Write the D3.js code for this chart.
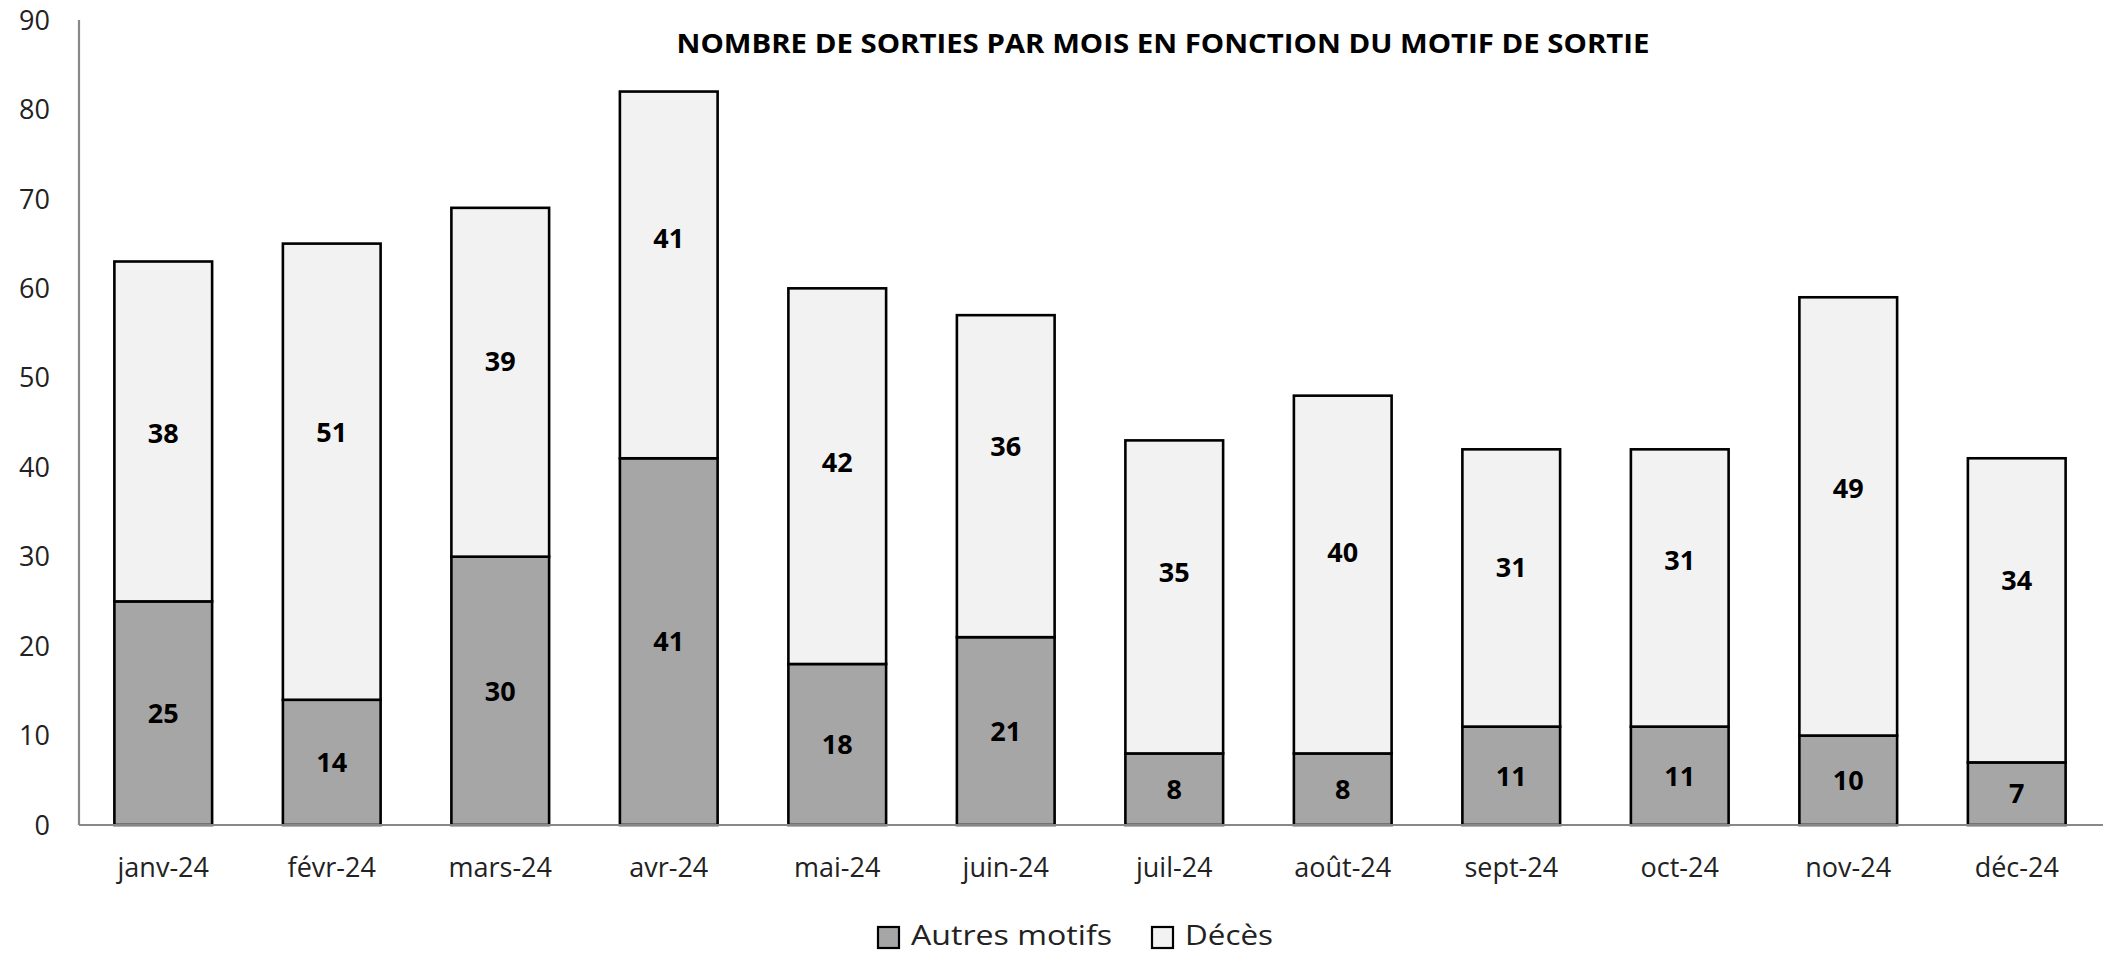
<!DOCTYPE html>
<html><head><meta charset="utf-8">
<script src="https://cdn.jsdelivr.net/npm/d3@7"></script>
<style>body{margin:0;background:#fff}svg{display:block}</style>
</head><body>
<script>
const months = ["janv-24","févr-24","mars-24","avr-24","mai-24","juin-24","juil-24","août-24","sept-24","oct-24","nov-24","déc-24"];
const autres = [25,14,30,41,18,21,8,8,11,11,10,7];
const deces = [38,51,39,41,42,36,35,40,31,31,49,34];
const seriesNames = ["Autres motifs","Décès"];
const yTicks = [0,10,20,30,40,50,60,70,80,90];
const title = "NOMBRE DE SORTIES PAR MOIS EN FONCTION DU MOTIF DE SORTIE";
const decesLabelAt = [43.8,43.9,51.8,65.6,40.6,42.3,28.2,30.5,28.8,29.6,37.7,27.4];

const W = 2103, H = 953;
const m = {left:79, right:2, top:20, bottom:128};
const colors = ["#a6a6a6","#f2f2f2"];
const font = "'Open Sans', sans-serif";

const svg = d3.select("body").append("svg").attr("width",W).attr("height",H);
const x = d3.scaleBand().domain(months).range([m.left, W-m.right]).paddingInner(0.42).paddingOuter(0.21);
const y = d3.scaleLinear().domain([0,90]).range([H-m.bottom, m.top]);

const data = months.map((mo,i)=>({month:mo, idx:i, "Autres motifs":autres[i], "Décès":deces[i]}));
const stack = d3.stack().keys(seriesNames)(data);

const g = svg.append("g");
stack.forEach((s,si)=>{
  g.selectAll(null).data(s).enter().append("rect")
    .attr("x", d=>x(d.data.month))
    .attr("y", d=>y(d[1]))
    .attr("width", x.bandwidth())
    .attr("height", d=>y(d[0])-y(d[1]))
    .attr("fill", colors[si]).attr("stroke","#000").attr("stroke-width",2.6);
});
stack.forEach((s,si)=>{
  g.selectAll(null).data(s).enter().append("text")
    .attr("x", d=>x(d.data.month)+x.bandwidth()/2)
    .attr("y", d=> si===1 ? y(decesLabelAt[d.data.idx]) : (y(d[0])+y(d[1]))/2)
    .attr("dy","0.36em").attr("text-anchor","middle")
    .attr("font-family",font).attr("font-weight","bold").attr("font-size",27).attr("fill","#000")
    .text(d=>d[1]-d[0]);
});

svg.append("line").attr("x1",m.left).attr("x2",m.left).attr("y1",y(90)).attr("y2",y(0))
  .attr("stroke","#888").attr("stroke-width",2.2);
svg.append("line").attr("x1",m.left).attr("x2",W).attr("y1",y(0)).attr("y2",y(0))
  .attr("stroke","#888").attr("stroke-width",2.2);

svg.selectAll(".yt").data(yTicks).enter().append("text")
  .attr("x",50).attr("y",d=>y(d)).attr("dy","0.36em").attr("text-anchor","end")
  .attr("font-family",font).attr("font-size",27).attr("fill","#222").text(d=>d);

svg.selectAll(".xt").data(months).enter().append("text")
  .attr("x",d=>x(d)+x.bandwidth()/2).attr("y",y(0)+42).attr("dy","0.36em").attr("text-anchor","middle")
  .attr("font-family",font).attr("font-size",27).attr("fill","#222").text(d=>d);

svg.append("text").attr("x",1163).attr("y",43).attr("dy","0.36em").attr("text-anchor","middle")
  .attr("font-family",font).attr("font-weight","bold").attr("font-size",27).attr("fill","#000")
  .attr("textLength",973).attr("lengthAdjust","spacingAndGlyphs").text(title);

const legX = [878, 1152];
const legW = [201, 88];
seriesNames.forEach((n,i)=>{
  svg.append("rect").attr("x",legX[i]).attr("y",927).attr("width",21).attr("height",21)
    .attr("fill",colors[i]).attr("stroke","#000").attr("stroke-width",2.2);
  svg.append("text").attr("x",legX[i]+33).attr("y",945)
    .attr("font-family",font).attr("font-size",27).attr("fill","#222")
    .attr("textLength",legW[i]).attr("lengthAdjust","spacingAndGlyphs").text(n);
});
</script>
</body></html>
